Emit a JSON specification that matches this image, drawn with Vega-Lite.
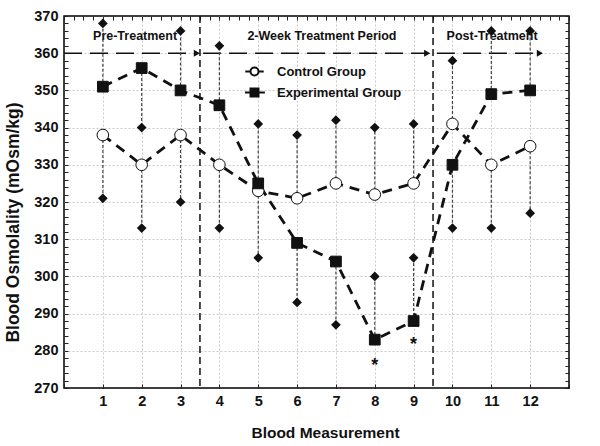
{
  "$schema": "https://vega.github.io/schema/vega-lite/v6.json",
  "width": 505,
  "height": 372,
  "autosize": "none",
  "padding": {"left": 64, "top": 16, "right": 31, "bottom": 58},
  "background": "white",
  "config": {
    "view": {"stroke": "black", "strokeWidth": 1.5},
    "font": "Liberation Sans",
    "axis": {
      "labelFont": "Liberation Sans", "labelFontWeight": "bold", "labelFontSize": 14.5, "labelColor": "#111",
      "titleFont": "Liberation Sans", "titleFontWeight": "bold", "titleFontSize": 14.5, "titleColor": "#111",
      "domain": false, "tickColor": "#222", "tickWidth": 1,
      "gridColor": "#c8c8c8", "gridDash": [2, 2], "gridWidth": 1
    },
    "legend": {"labelFont": "Liberation Sans", "labelFontWeight": "bold", "labelFontSize": 13, "labelColor": "#111"}
  },
  "datasets": {
    "pts": [
      {"m": 1, "group": "Control Group", "value": 338, "err": 321},
      {"m": 2, "group": "Control Group", "value": 330, "err": 313},
      {"m": 3, "group": "Control Group", "value": 338, "err": 320},
      {"m": 4, "group": "Control Group", "value": 330, "err": 313},
      {"m": 5, "group": "Control Group", "value": 323, "err": 305},
      {"m": 6, "group": "Control Group", "value": 321, "err": 338},
      {"m": 7, "group": "Control Group", "value": 325, "err": 342},
      {"m": 8, "group": "Control Group", "value": 322, "err": 340},
      {"m": 9, "group": "Control Group", "value": 325, "err": 341},
      {"m": 10, "group": "Control Group", "value": 341, "err": 358},
      {"m": 11, "group": "Control Group", "value": 330, "err": 313},
      {"m": 12, "group": "Control Group", "value": 335, "err": 317},
      {"m": 1, "group": "Experimental Group", "value": 351, "err": 368},
      {"m": 2, "group": "Experimental Group", "value": 356, "err": 340},
      {"m": 3, "group": "Experimental Group", "value": 350, "err": 366},
      {"m": 4, "group": "Experimental Group", "value": 346, "err": 362},
      {"m": 5, "group": "Experimental Group", "value": 325, "err": 341},
      {"m": 6, "group": "Experimental Group", "value": 309, "err": 293},
      {"m": 7, "group": "Experimental Group", "value": 304, "err": 287},
      {"m": 8, "group": "Experimental Group", "value": 283, "err": 300},
      {"m": 9, "group": "Experimental Group", "value": 288, "err": 305},
      {"m": 10, "group": "Experimental Group", "value": 330, "err": 313},
      {"m": 11, "group": "Experimental Group", "value": 349, "err": 366},
      {"m": 12, "group": "Experimental Group", "value": 350, "err": 366}
    ],
    "phases": [
      {"x1": 0, "x2": 3.42, "y": 360},
      {"x1": 3.58, "x2": 9.35, "y": 360},
      {"x1": 9.6, "x2": 12.25, "y": 360}
    ],
    "seps": [{"x": 3.5}, {"x": 9.5}],
    "labels": [
      {"x": 1.83, "y": 364.6, "label": "Pre-Treatment"},
      {"x": 6.64, "y": 364.6, "label": "2-Week Treatment Period"},
      {"x": 11.02, "y": 364.6, "label": "Post-Treatment"}
    ],
    "stars": [
      {"x": 8, "y": 276, "label": "*"},
      {"x": 9, "y": 281.5, "label": "*"}
    ]
  },
  "resolve": {"axis": {"x": "independent", "y": "independent"}},
  "layer": [
    {
      "data": {"name": "seps"},
      "mark": {"type": "rule", "color": "#111", "strokeWidth": 1.5, "strokeDash": [7, 4]},
      "encoding": {
        "x": {"field": "x", "type": "quantitative", "scale": {"domain": [0, 13], "nice": false, "zero": false},
          "axis": {"orient": "top", "values": [0,0.25,0.5,0.75,1,1.25,1.5,1.75,2,2.25,2.5,2.75,3,3.25,3.5,3.75,4,4.25,4.5,4.75,5,5.25,5.5,5.75,6,6.25,6.5,6.75,7,7.25,7.5,7.75,8,8.25,8.5,8.75,9,9.25,9.5,9.75,10,10.25,10.5,10.75,11,11.25,11.5,11.75,12,12.25,12.5,12.75,13], "labels": false, "title": null, "grid": false, "tickSize": -4}}
      }
    },
    {
      "data": {"name": "phases"},
      "mark": {"type": "rule", "color": "#111", "strokeWidth": 1.5, "strokeDash": [18, 8]},
      "encoding": {
        "x": {"field": "x1", "type": "quantitative", "axis": null},
        "x2": {"field": "x2"},
        "y": {"field": "y", "type": "quantitative", "scale": {"domain": [270, 370], "nice": false, "zero": false},
          "axis": {"orient": "right", "values": [270,272,274,276,278,280,282,284,286,288,290,292,294,296,298,300,302,304,306,308,310,312,314,316,318,320,322,324,326,328,330,332,334,336,338,340,342,344,346,348,350,352,354,356,358,360,362,364,366,368,370], "labels": false, "title": null, "grid": false, "tickSize": -4}}
      }
    },
    {
      "data": {"name": "phases"},
      "mark": {"type": "point", "shape": "triangle-right", "filled": true, "color": "#111", "size": 50, "opacity": 1},
      "encoding": {
        "x": {"field": "x2", "type": "quantitative", "axis": null},
        "y": {"field": "y", "type": "quantitative", "axis": null}
      }
    },
    {
      "data": {"name": "labels"},
      "mark": {"type": "text", "font": "Liberation Sans", "fontWeight": "bold", "fontSize": 12.5, "color": "#111", "align": "center", "baseline": "middle"},
      "encoding": {
        "x": {"field": "x", "type": "quantitative", "axis": null},
        "y": {"field": "y", "type": "quantitative", "axis": null},
        "text": {"field": "label"}
      }
    },
    {
      "data": {"name": "pts"},
      "mark": {"type": "rule", "color": "#444", "strokeWidth": 1.2, "strokeDash": [3, 2]},
      "encoding": {
        "x": {"field": "m", "type": "quantitative", "axis": null},
        "y": {"field": "value", "type": "quantitative", "axis": null},
        "y2": {"field": "err"}
      }
    },
    {
      "data": {"name": "pts"},
      "mark": {"type": "point", "shape": "diamond", "filled": true, "color": "#111", "size": 95, "opacity": 1},
      "encoding": {
        "x": {"field": "m", "type": "quantitative", "axis": null},
        "y": {"field": "err", "type": "quantitative", "axis": null}
      }
    },
    {
      "data": {"name": "pts"},
      "mark": {"type": "line", "color": "#111", "strokeWidth": 2.8, "strokeDash": [10, 7]},
      "encoding": {
        "x": {"field": "m", "type": "quantitative", "axis": null},
        "y": {"field": "value", "type": "quantitative", "axis": null},
        "detail": {"field": "group"}
      }
    },
    {
      "data": {"name": "pts"},
      "transform": [{"filter": "datum.group === 'Control Group'"}],
      "mark": {"type": "point", "shape": "circle", "filled": true, "fill": "white", "stroke": "#111", "strokeWidth": 1, "size": 135, "opacity": 1},
      "encoding": {
        "x": {"field": "m", "type": "quantitative",
          "axis": {"orient": "bottom", "title": "Blood Measurement", "titleFontSize": 15.5, "titleX": 261, "titleY": 44, "titleBaseline": "middle", "labelPadding": 10, "format": "d", "values": [0,0.25,0.5,0.75,1,1.25,1.5,1.75,2,2.25,2.5,2.75,3,3.25,3.5,3.75,4,4.25,4.5,4.75,5,5.25,5.5,5.75,6,6.25,6.5,6.75,7,7.25,7.5,7.75,8,8.25,8.5,8.75,9,9.25,9.5,9.75,10,10.25,10.5,10.75,11,11.25,11.5,11.75,12,12.25,12.5,12.75,13], "labelExpr": "(datum.value % 1 === 0 && datum.value >= 1 && datum.value <= 12) ? datum.label : ''", "tickSize": -4, "grid": true, "gridOpacity": {"condition": {"test": "datum.value % 1 === 0 && datum.value >= 1 && datum.value <= 12", "value": 1}, "value": 0}}},
        "y": {"field": "value", "type": "quantitative",
          "axis": {"orient": "left", "title": "Blood Osmolality (mOsm/kg)", "titleFontSize": 17.5, "titleX": -51, "titleY": 206, "titleBaseline": "middle", "titleAlign": "center", "labelPadding": 10, "values": [270,272,274,276,278,280,282,284,286,288,290,292,294,296,298,300,302,304,306,308,310,312,314,316,318,320,322,324,326,328,330,332,334,336,338,340,342,344,346,348,350,352,354,356,358,360,362,364,366,368,370], "labelExpr": "datum.value % 10 === 0 ? datum.label : ''", "tickSize": -4, "grid": true, "gridOpacity": {"condition": {"test": "datum.value % 10 === 0 && datum.value > 270 && datum.value < 370", "value": 1}, "value": 0}}}
      }
    },
    {
      "data": {"name": "pts"},
      "transform": [{"filter": "datum.group === 'Experimental Group'"}],
      "mark": {"type": "point", "shape": "square", "filled": true, "fill": "#111", "stroke": "#111", "strokeWidth": 1, "size": 115, "opacity": 1},
      "encoding": {
        "x": {"field": "m", "type": "quantitative", "axis": null},
        "y": {"field": "value", "type": "quantitative", "axis": null}
      }
    },
    {
      "data": {"name": "pts"},
      "mark": {"type": "point", "filled": false, "strokeWidth": 2, "size": 0, "opacity": 1},
      "encoding": {
        "x": {"field": "m", "type": "quantitative", "axis": null},
        "y": {"field": "value", "type": "quantitative", "axis": null},
        "shape": {"field": "group", "type": "nominal", "scale": {"domain": ["Control Group", "Experimental Group"], "range": ["M-2.3,0H-1M1,0H2.3M-1,0A1,1 0 1,1 1,0A1,1 0 1,1 -1,0Z", "M-2.4,0H-1M1,0H2.6M-1,-1H1V1H-1Z"]},
          "legend": {"title": null, "orient": "none", "legendX": 184, "legendY": 49, "padding": 0, "rowPadding": 4, "labelOffset": 16, "symbolSize": 64, "symbolStrokeWidth": 2, "symbolOpacity": 1}},
        "fill": {"field": "group", "type": "nominal", "scale": {"domain": ["Control Group", "Experimental Group"], "range": ["white", "#111"]}},
        "stroke": {"field": "group", "type": "nominal", "scale": {"domain": ["Control Group", "Experimental Group"], "range": ["#111", "#111"]}}
      }
    },
    {
      "data": {"name": "stars"},
      "mark": {"type": "text", "font": "Liberation Sans", "fontWeight": "bold", "fontSize": 18, "color": "#111", "align": "center", "baseline": "middle"},
      "encoding": {
        "x": {"field": "x", "type": "quantitative", "axis": null},
        "y": {"field": "y", "type": "quantitative", "axis": null},
        "text": {"field": "label"}
      }
    }
  ]
}
